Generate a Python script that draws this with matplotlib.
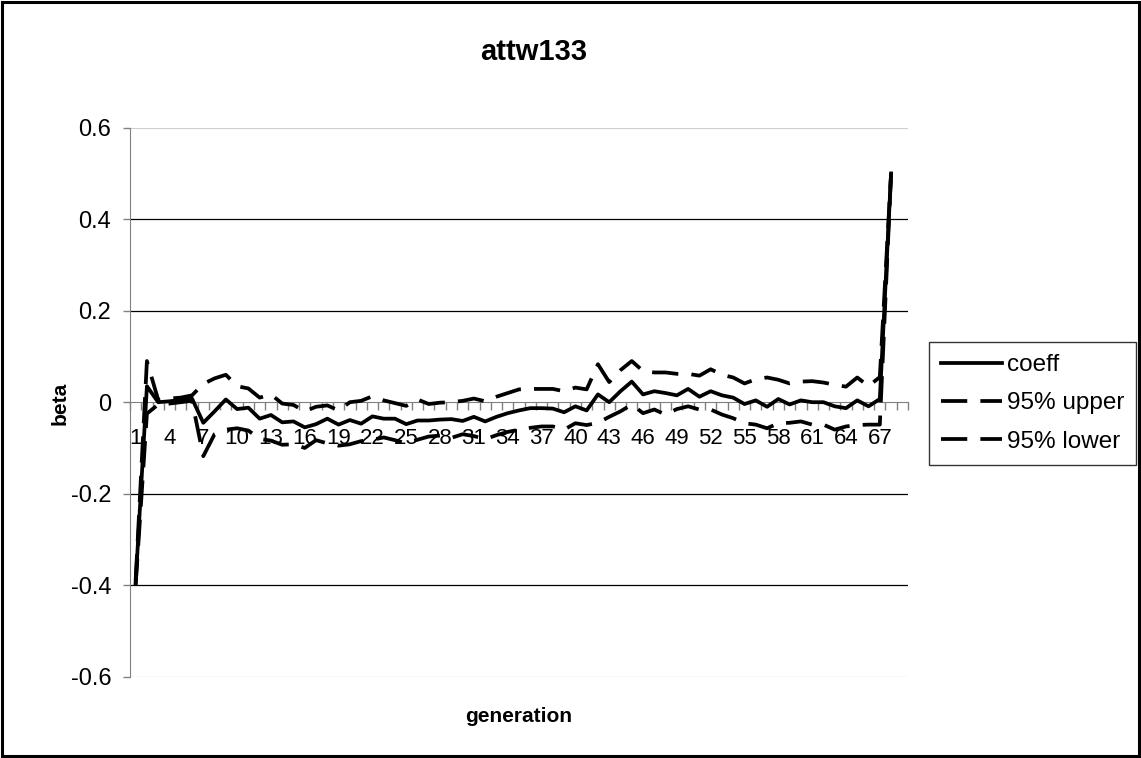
import matplotlib
matplotlib.use("Agg")
import matplotlib.pyplot as plt
from matplotlib.patches import Rectangle

plt.rcParams['font.family'] = ['Liberation Sans', 'DejaVu Sans']

# generation index and regression results
generation = list(range(1, 69))
coeff = [-0.395, 0.035, 0.0, 0.002, 0.005, 0.008, -0.045, -0.02, 0.006, -0.015,
         -0.012, -0.036, -0.028, -0.044, -0.042, -0.055, -0.048, -0.036, -0.049, -0.039,
         -0.047, -0.031, -0.036, -0.036, -0.048, -0.04, -0.04, -0.038, -0.037, -0.041,
         -0.032, -0.042, -0.032, -0.024, -0.018, -0.013, -0.013, -0.014, -0.022, -0.009,
         -0.018, 0.017, 0.0, 0.024, 0.045, 0.017, 0.024, 0.02, 0.015, 0.029,
         0.012, 0.024, 0.015, 0.01, -0.004, 0.004, -0.01, 0.007, -0.005, 0.004,
         0.0, 0.0, -0.009, -0.013, 0.004, -0.009, 0.007, 0.5]
upper = [-0.39, 0.09, 0.005, 0.008, 0.01, 0.015, 0.04, 0.052, 0.06, 0.035,
         0.03, 0.01, 0.017, -0.003, -0.006, -0.02, -0.01, -0.007, -0.018, 0.0,
         0.003, 0.013, 0.004, -0.002, -0.008, 0.006, -0.004, -0.001, 0.0, 0.003,
         0.008, 0.002, 0.012, 0.02, 0.028, 0.029, 0.029, 0.029, 0.024, 0.032,
         0.028, 0.083, 0.044, 0.07, 0.09, 0.068, 0.065, 0.065, 0.062, 0.062,
         0.058, 0.072, 0.06, 0.054, 0.041, 0.05, 0.054, 0.049, 0.041, 0.045,
         0.046, 0.043, 0.038, 0.034, 0.054, 0.035, 0.055, 0.5]
lower = [-0.40, -0.025, -0.005, -0.003, 0.0, 0.003, -0.118, -0.07, -0.06, -0.057,
         -0.062, -0.08, -0.084, -0.093, -0.092, -0.1, -0.083, -0.09, -0.095, -0.092,
         -0.085, -0.082, -0.077, -0.083, -0.09, -0.082, -0.075, -0.073, -0.078, -0.07,
         -0.074, -0.081, -0.072, -0.065, -0.06, -0.056, -0.053, -0.053, -0.06, -0.046,
         -0.05, -0.045, -0.032, -0.02, -0.005, -0.024, -0.016, -0.027, -0.015, -0.009,
         -0.016, -0.016, -0.027, -0.035, -0.046, -0.049, -0.057, -0.046, -0.045, -0.042,
         -0.049, -0.049, -0.06, -0.053, -0.05, -0.049, -0.049, 0.5]
n_categories = 69
yticks = [-0.6, -0.4, -0.2, 0, 0.2, 0.4, 0.6]
ytick_labels = ['-0.6', '-0.4', '-0.2', '0', '0.2', '0.4', '0.6']

fig = plt.figure(figsize=(11.41, 7.58), dpi=100, facecolor='white')
ax = fig.add_axes([130 / 1141, 1 - 676.7 / 758, 778 / 1141, 549 / 758])

# gridlines, excel style (outer ones are faint)
for y in yticks:
    if y == 0:
        continue
    col = '#d0d0d0' if abs(y) > 0.5 else 'black'
    ax.axhline(y, color=col, lw=0.9, zorder=0)

ax.plot(generation, coeff, color='black', lw=2.7, label='coeff', zorder=3)
ax.plot(generation, upper, color='black', lw=2.7, dashes=(7, 3.5),
        label='95% upper', zorder=3)
ax.plot(generation, lower, color='black', lw=2.7, dashes=(7, 3.5),
        label='95% lower', zorder=3)

ax.set_xlim(0.5, n_categories + 0.5)
ax.set_ylim(-0.6, 0.6)

for side in ['top', 'right']:
    ax.spines[side].set_visible(False)
ax.spines['left'].set_color('#808080')
ax.spines['bottom'].set_color('#808080')
ax.spines['bottom'].set_position(('data', 0))

ax.set_yticks(yticks)
ax.set_yticklabels(ytick_labels)
ax.tick_params(axis='y', direction='out', length=5, width=1, color='#808080',
               labelsize=17, pad=8.5)

ax.set_xticks(generation[::3])
ax.set_xticklabels([str(g) for g in generation[::3]])
ax.set_xticks([i + 0.5 for i in range(0, n_categories + 1)], minor=True)
ax.tick_params(axis='x', which='major', length=0, labelsize=16, pad=18.5)
ax.tick_params(axis='x', which='minor', direction='out', length=6, width=1,
               color='#808080')

fig.text(534 / 1141, 1 - 52 / 758, 'attw133', ha='center', va='center',
         fontsize=21, fontweight='bold')
fig.text(60 / 1141, 1 - 403 / 758, 'beta', ha='center', va='center',
         fontsize=15, fontweight='bold', rotation=90)
fig.text(519 / 1141, 1 - 716 / 758, 'generation', ha='center', va='center',
         fontsize=15, fontweight='bold')

leg = ax.legend(loc='upper left', bbox_to_anchor=(929 / 1141, 1 - 342 / 758),
                bbox_transform=fig.transFigure, borderaxespad=0, fontsize=17.5,
                frameon=True, fancybox=False, edgecolor='black',
                handlelength=2.5, handletextpad=0.2, borderpad=0.5,
                labelspacing=0.67)
leg.get_frame().set_linewidth(1.0)

fig.patches.append(Rectangle((0.0015, 0.002), 0.997, 0.996, transform=fig.transFigure,
                             fill=False, edgecolor='black', lw=2.2))

fig.savefig('out.png', dpi=100, facecolor='white')
